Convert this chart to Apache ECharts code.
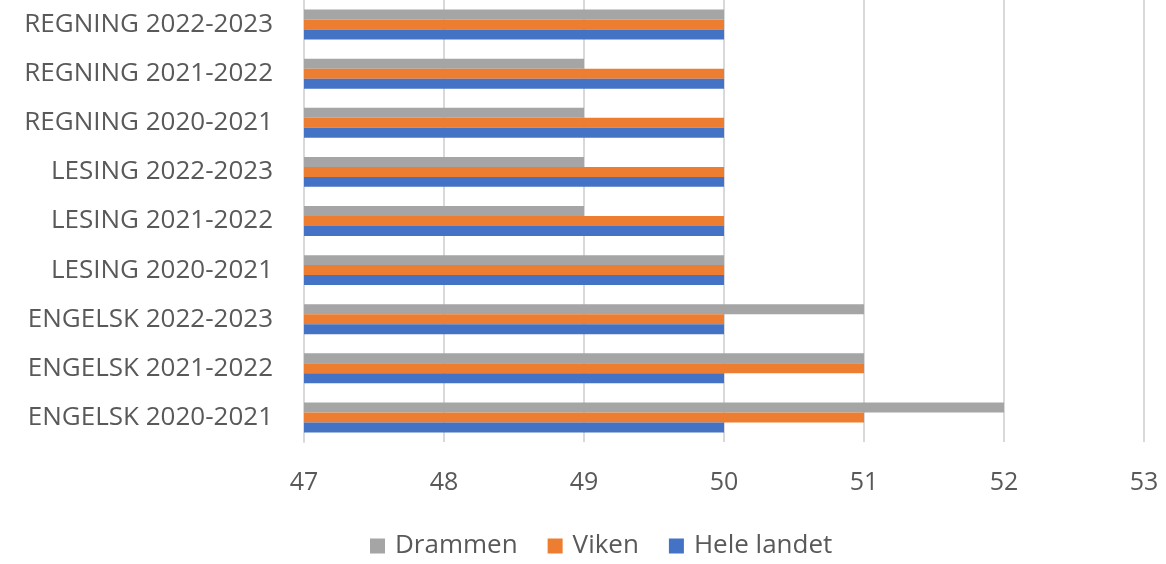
<!DOCTYPE html>
<html><head><meta charset="utf-8">
<script src="https://cdn.jsdelivr.net/npm/echarts@6/dist/echarts.min.js"></script>
<style>html,body{margin:0;padding:0;background:#fff}#c{width:1166px;height:564px}</style>
</head><body><div id="c"></div>
<script>
const categories = ['ENGELSK 2020-2021','ENGELSK 2021-2022','ENGELSK 2022-2023','LESING 2020-2021','LESING 2021-2022','LESING 2022-2023','REGNING 2020-2021','REGNING 2021-2022','REGNING 2022-2023'];
const drammen = [52,51,51,50,49,49,49,49,50];
const viken = [51,51,50,50,50,50,50,50,50];
const heleLandet = [50,50,50,50,50,50,50,50,50];
const xMin = 47, xMax = 53, xStep = 1;

const FONT = 'Open Sans';
const chart = echarts.init(document.getElementById('c'), null, {renderer:'canvas'});
chart.setOption({
  animation:false,
  backgroundColor:'#fff',
  grid:{left:304,right:22,top:0,bottom:122,containLabel:false},
  legend:{
    data:['Drammen','Viken','Hele landet'],
    bottom:0, left:365,
    itemWidth:15,itemHeight:15,itemGap:30,icon:'rect',
    textStyle:{fontFamily:FONT,fontSize:26,color:'#595959',padding:[0,0,0,5]}
  },
  xAxis:{
    type:'value',min:xMin,max:xMax,interval:xStep,
    axisLine:{show:false},axisTick:{show:false},
    splitLine:{show:true,lineStyle:{color:'#d9d9d9',width:2}},
    axisLabel:{fontFamily:FONT,fontSize:25,color:'#595959',margin:28}
  },
  yAxis:{
    type:'category',data:categories,
    axisLine:{show:true,lineStyle:{color:'#d9d9d9',width:2}},
    axisTick:{show:false},
    axisLabel:{fontFamily:FONT,fontSize:26,color:'#595959',margin:31}
  },
  series:[
    {name:'Drammen',type:'bar',data:drammen,itemStyle:{color:'#A5A5A5'},barGap:'0%',barCategoryGap:'39%'},
    {name:'Viken',type:'bar',data:viken,itemStyle:{color:'#ED7D31'},barGap:'0%',barCategoryGap:'39%'},
    {name:'Hele landet',type:'bar',data:heleLandet,itemStyle:{color:'#4472C4'},barGap:'0%',barCategoryGap:'39%'}
  ]
});
</script></body></html>
